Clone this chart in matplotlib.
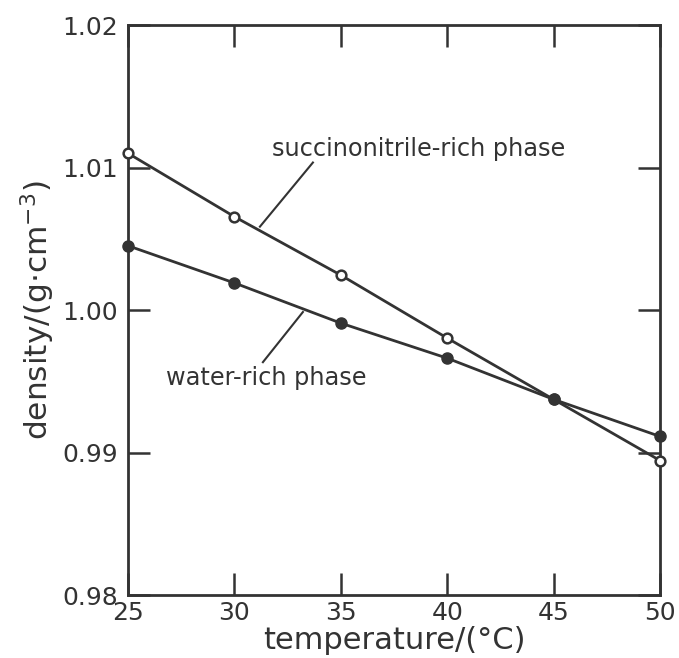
import matplotlib
matplotlib.use("Agg")
import matplotlib.pyplot as plt

# data
temperature = [25, 30, 35, 40, 45, 50]
succinonitrile_rich = [1.0110, 1.00655, 1.00245, 0.99803, 0.99373, 0.98944]
water_rich = [1.00451, 1.00190, 0.99908, 0.99662, 0.99373, 0.99113]

x_ticks = [25, 30, 35, 40, 45, 50]
y_ticks = [0.98, 0.99, 1.00, 1.01, 1.02]
y_ticklabels = ["0.98", "0.99", "1.00", "1.01", "1.02"]

plt.rcParams['font.family'] = ['DejaVu Sans']
ink = '#333333'

fig = plt.figure(figsize=(6.79, 6.58), dpi=100)
ax = fig.add_axes([0.1885, 0.0957, 0.7835, 0.8663])

# succinonitrile-rich phase (open circles)
ax.plot(temperature, succinonitrile_rich, color=ink, lw=2, marker='o', ms=7,
        mfc='white', mec=ink, mew=1.8, zorder=3, clip_on=False)
# water-rich phase (filled circles)
ax.plot(temperature, water_rich, color=ink, lw=2, marker='o', ms=8,
        mfc=ink, mec=ink, zorder=3, clip_on=False)

# labels with leader lines
ax.text(38.65, 1.01127, 'succinonitrile-rich phase', fontsize=17.3, color=ink,
        ha='center', va='center')
ax.plot([33.69, 31.20], [1.01035, 1.00585], color=ink, lw=1.5)

ax.text(31.49, 0.99521, 'water-rich phase', fontsize=17.3, color=ink,
        ha='center', va='center')
ax.plot([33.22, 31.34], [0.99986, 0.99634], color=ink, lw=1.5)

ax.set_xlim(25, 50)
ax.set_ylim(0.98, 1.02)
ax.set_xticks(x_ticks)
ax.set_yticks(y_ticks)
ax.set_yticklabels(y_ticklabels)
ax.tick_params(direction='in', length=16, width=1.8, color=ink, labelcolor=ink,
               labelsize=18, top=True, right=True, pad=7)
ax.tick_params(axis='x', pad=4)
for s in ax.spines.values():
    s.set_linewidth(2)
    s.set_color(ink)

ax.set_xlabel('temperature/(°C)', fontsize=22, color=ink, labelpad=1)
ax.set_ylabel('density/(g$\\cdot$cm$^{-3}$)', fontsize=22.5, color=ink, labelpad=4)

fig.savefig('out.png', dpi=100)
